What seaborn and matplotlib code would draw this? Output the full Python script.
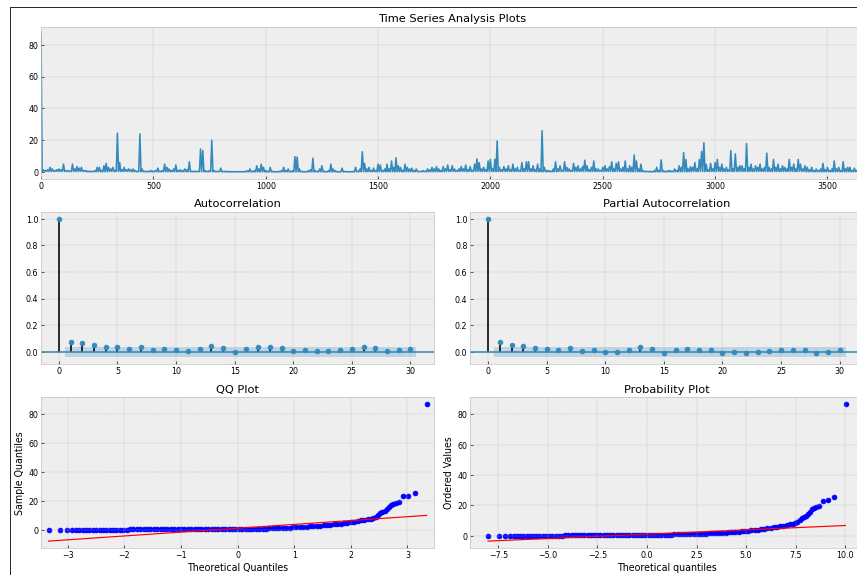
import matplotlib
matplotlib.use("Agg")
import numpy as np
import pandas as pd
import matplotlib.pyplot as plt
import seaborn as sns
from matplotlib.lines import Line2D

# -----------------------------------------------
# Data
# -----------------------------------------------
# time series, local peaks read every 10 observations (0 .. 3660)
ts_step = 10
ts_values = [
    87, 1.5, 1, 1.5, 3, 2, 1, 1.5, 2, 1.5,          # 0
    5, 1, 1, 0.5, 5, 2, 3.5, 2.5, 3, 1,             # 100
    1, 0.5, 0.5, 0.5, 1, 3, 3, 1, 4, 5.5,           # 200
    3, 2, 3, 1, 24.5, 6, 1.5, 3, 1.5, 2,            # 300
    1.5, 2, 1, 0.5, 24, 2, 0.5, 0.5, 0.5, 1,        # 400
    0.5, 1, 2.5, 0.5, 1, 5, 3, 2, 1, 2,             # 500
    4.5, 1, 1.5, 1, 2, 1.5, 6.5, 0.5, 0.5, 0.5,     # 600
    0.5, 14.5, 13.5, 1, 0.5, 1, 20, 1, 0.5, 0.5,    # 700
    2.5, 0.5, 0.5, 0.5, 0.3, 0.3, 0.3, 0.3, 0.3, 0.3,  # 800
    0.3, 0.5, 1, 2, 0.5, 1, 4, 2, 5, 3,             # 900
    1, 0.5, 3, 0.5, 0.3, 0.3, 0.5, 1, 3, 1,         # 1000
    2, 0.5, 1, 9.7, 9.5, 2, 0.5, 0.3, 0.3, 1,       # 1100
    1.5, 8.7, 1, 0.5, 2, 4, 0.5, 0.3, 1, 5,         # 1200
    2, 1, 0.3, 0.3, 2.5, 0.5, 0.3, 0.3, 0.3, 0.5,   # 1300
    3, 0.5, 2, 12.8, 5.5, 2, 3, 1, 2.5, 1,          # 1400
    5, 4.5, 1, 2, 5, 2, 7, 3, 9, 4,                 # 1500
    3, 1, 5, 3, 2, 2.5, 1, 2, 0.5, 0.5,             # 1600
    1, 0.5, 2, 1.5, 3, 2, 3.5, 2, 1, 3.5,           # 1700
    2, 4.5, 1.5, 4, 2, 1, 2, 3.5, 2, 4.5,           # 1800
    1.5, 3.5, 1, 5, 8.3, 6, 2, 3, 1.5, 7,           # 1900
    8, 2, 8, 19.6, 3, 1.5, 3.5, 2, 4, 1.5,          # 2000
    5, 2, 3, 1, 6, 2, 6.5, 6.5, 2, 4,               # 2100
    1.5, 5, 2, 26, 3, 1, 1, 0.5, 2, 6.5,            # 2200
    2, 4, 1, 6.5, 3, 2, 1, 5.5, 3, 4,               # 2300
    2, 3.5, 7.5, 4, 1.5, 3, 7, 2, 2, 1,             # 2400
    3, 4, 2, 3.5, 6.5, 2, 5.5, 6.5, 2, 3,           # 2500
    7, 2, 4, 3, 10.8, 7, 2, 5, 1, 0.5,              # 2600
    0.5, 0.5, 0.3, 1, 3, 1, 7.7, 1, 0.5, 1,         # 2700
    1, 0.5, 2, 1, 4, 3, 12.3, 8, 2, 3.5,            # 2800
    3, 6, 2, 8, 13, 18.5, 5, 1.5, 5.5, 2,           # 2900
    6, 8, 3, 5, 2, 3, 1.5, 13.5, 2, 11.5,           # 3000
    3, 4, 4, 2, 17.9, 3, 5, 2, 4, 3,                # 3100
    5, 2, 3, 11.9, 3, 2, 8, 3, 5, 2,                # 3200
    4, 3, 2, 8, 3, 5, 2, 8, 5, 2,                   # 3300
    4, 3, 1.5, 3, 1, 2, 1, 2, 5.5, 1.5,             # 3400
    3, 1, 2, 7, 2, 3, 1, 6.5, 2, 3,                 # 3500
    3, 1, 2.5, 1, 3, 1.5, 2,                        # 3600
]
# low level the line drops back to between peaks, per block of 100 observations
ts_block_lows = [0.5, 0.5, 0.3, 0.5, 0.3, 0.3, 0.3, 0.3, 0.2, 0.2,
                 0.2, 0.2, 0.2, 0.2, 0.3, 0.3, 0.3, 0.3, 0.5, 0.5,
                 0.5, 0.5, 0.3, 0.5, 0.5, 0.5, 0.3, 0.2, 0.3, 0.5,
                 0.5, 0.5, 0.5, 0.5, 0.3, 0.3, 0.3]

# autocorrelation / partial autocorrelation, lags 0..30
lags = list(range(31))
acf_values = [1.0, 0.074, 0.064, 0.051, 0.038, 0.033, 0.02, 0.038, 0.013, 0.023,
              0.013, 0.005, 0.018, 0.044, 0.026, 0.0, 0.018, 0.033, 0.033, 0.026,
              0.008, 0.013, 0.008, 0.008, 0.013, 0.018, 0.033, 0.026, 0.008, 0.013,
              0.018]
pacf_values = [1.0, 0.074, 0.056, 0.044, 0.033, 0.02, 0.013, 0.033, 0.008, 0.018,
               0.0, 0.0, 0.013, 0.038, 0.02, -0.01, 0.013, 0.023, 0.018, 0.018,
               -0.005, 0.0, -0.005, 0.0, 0.008, 0.013, 0.018, 0.018, -0.005, 0.0,
               0.013]
acf_conf = 0.038
pacf_conf = 0.037

# QQ plot points (theoretical quantile, sample quantile)
qq_theoretical = [
    -3.34, -3.13, -3.02, -2.93, -2.86, -2.80,
    -2.74, -2.68, -2.62, -2.56, -2.50, -2.44, -2.38, -2.32, -2.26, -2.20,
    -2.14, -2.08, -2.02, -1.96,
    -1.90, -1.84, -1.78, -1.72, -1.66, -1.60, -1.54, -1.48, -1.42, -1.36,
    -1.30, -1.24, -1.18, -1.12, -1.06, -1.00, -0.94, -0.88, -0.82, -0.76,
    -0.70, -0.64, -0.58, -0.52,
    -0.46, -0.40, -0.34, -0.28, -0.22, -0.16, -0.10, -0.04, 0.02, 0.08,
    0.14, 0.20, 0.26, 0.32, 0.38, 0.44, 0.50,
    0.56, 0.62, 0.68, 0.74, 0.80, 0.86, 0.92, 0.98,
    1.04, 1.10, 1.16, 1.22, 1.28, 1.34, 1.40, 1.46, 1.52,
    1.58, 1.64, 1.70, 1.76, 1.82, 1.88, 1.94, 2.00,
    2.06, 2.12, 2.18, 2.24, 2.30, 2.36,
    2.40, 2.44, 2.48, 2.52, 2.56, 2.60, 2.64, 2.68, 2.71, 2.75,
    2.79, 2.85, 2.92, 3.01, 3.13, 3.34,
]
qq_sample = [
    0, 0, 0, 0, 0, 0,
    0, 0, 0, 0, 0, 0, 0, 0, 0, 0,
    0, 0, 0, 0.2,
    0.5, 0.5, 0.5, 0.5, 0.5, 0.5, 0.5, 0.5, 0.5, 0.5,
    0.5, 0.5, 0.5, 0.5, 0.5, 0.5, 0.5, 0.5, 0.5, 0.5,
    0.5, 0.5, 0.5, 0.5,
    0.6, 0.6, 0.6, 0.7, 0.7, 0.7, 0.7, 0.8, 0.8, 0.8,
    0.9, 0.9, 0.9, 1.0, 1.0, 1.0, 1.1,
    1.2, 1.3, 1.4, 1.5, 1.6, 1.7, 1.8, 2.0,
    2.1, 2.2, 2.4, 2.5, 2.7, 2.8, 3.0, 3.2, 3.4,
    3.6, 3.8, 4.0, 4.3, 4.6, 4.9, 5.2, 5.5,
    5.8, 6.3, 6.8, 7.2, 7.6, 8.0,
    8.3, 9.2, 10.5, 11.5, 12.5, 13.3, 14.5, 16.0, 17.5, 18.2,
    18.7, 19.5, 23.2, 23.7, 25.9, 87.0,
]
qq_line = (1.35, 2.65)          # intercept, slope of the red line

# probability plot: same values against loc + scale * quantile
prob_loc, prob_scale = 1.0, 2.7
prob_line = (1.1, 0.57)         # least squares fit shown in red

# -----------------------------------------------
# Build the series: peaks every 10 obs, drops in between
# -----------------------------------------------
peaks = pd.DataFrame({'t': np.arange(len(ts_values)) * ts_step, 'v': ts_values})
dips_t = np.arange(len(ts_values) - 1) * ts_step + ts_step // 2
dips = pd.DataFrame({'t': dips_t, 'v': [ts_block_lows[t // 100] for t in dips_t]})
series = pd.concat([peaks, dips]).sort_values('t').reset_index(drop=True)

# -----------------------------------------------
# Figure
# -----------------------------------------------
plt.style.use('bmh')
DPI = 57
fig = plt.figure(figsize=(857.4 / DPI, 575.4 / DPI), dpi=DPI)

W, H = 857.0, 575.0
def px_axes(left, top, right, bottom):
    return fig.add_axes([left / W, 1 - bottom / H, (right - left) / W, (bottom - top) / H])

ts_ax = px_axes(41, 27, 863, 179)
acf_ax = px_axes(41, 212, 434, 364)
pacf_ax = px_axes(470, 212, 863, 364)
qq_ax = px_axes(41, 397, 434, 548)
pp_ax = px_axes(470, 397, 863, 548)

# time series
sns.lineplot(data=series, x='t', y='v', ax=ts_ax, color='C0', linewidth=2)
ts_ax.set_xlim(series['t'].iloc[0], series['t'].iloc[-1])
ts_ax.set_xlabel('')
ts_ax.set_ylabel('')
ts_ax.set_title('Time Series Analysis Plots')


def corr_plot(ax, values, conf, title):
    ax.vlines(lags, 0, values, colors='k', linewidth=2)
    sns.scatterplot(x=lags, y=values, ax=ax, color='C0', s=36, edgecolor='C0',
                    linewidth=1, zorder=3)
    ax.axhline(0, color='C0', linewidth=2)
    ax.fill_between([0.5, lags[-1] + 0.5], -conf, conf, color='C0', alpha=0.25,
                    linewidth=0)
    ax.margins(0.05)
    ax.set_title(title)


corr_plot(acf_ax, acf_values, acf_conf, 'Autocorrelation')
corr_plot(pacf_ax, pacf_values, pacf_conf, 'Partial Autocorrelation')

# QQ plot
sns.scatterplot(x=qq_theoretical, y=qq_sample, ax=qq_ax, color='blue', s=36,
                edgecolor='blue', linewidth=1)
z_ends = np.array([qq_theoretical[0], qq_theoretical[-1]])
qq_ax.plot(z_ends, qq_line[0] + qq_line[1] * z_ends, color='red', linewidth=1.5)
qq_ax.set_xmargin(0.02)
qq_ax.autoscale_view()
qq_ax.set_title('QQ Plot')
qq_ax.set_xlabel('Theoretical Quantiles')
qq_ax.set_ylabel('Sample Quantiles')

# probability plot
prob_x = prob_loc + prob_scale * np.array(qq_theoretical)
sns.scatterplot(x=prob_x, y=qq_sample, ax=pp_ax, color='blue', s=36,
                edgecolor='blue', linewidth=1)
x_ends = np.array([prob_x[0], prob_x[-1]])
pp_ax.plot(x_ends, prob_line[0] + prob_line[1] * x_ends, color='red', linewidth=1.5)
pp_ax.set_title('Probability Plot')
pp_ax.set_xlabel('Theoretical quantiles')
pp_ax.set_ylabel('Ordered Values')

# frame line seen at the left / top of the screenshot
fig.add_artist(Line2D([9.5 / W, 9.5 / W], [0, 1 - 7.5 / H], color='#222222', linewidth=1.2))
fig.add_artist(Line2D([9.5 / W, 1], [1 - 7.5 / H, 1 - 7.5 / H], color='#222222', linewidth=1.2))

fig.savefig('out.png', dpi=DPI)
